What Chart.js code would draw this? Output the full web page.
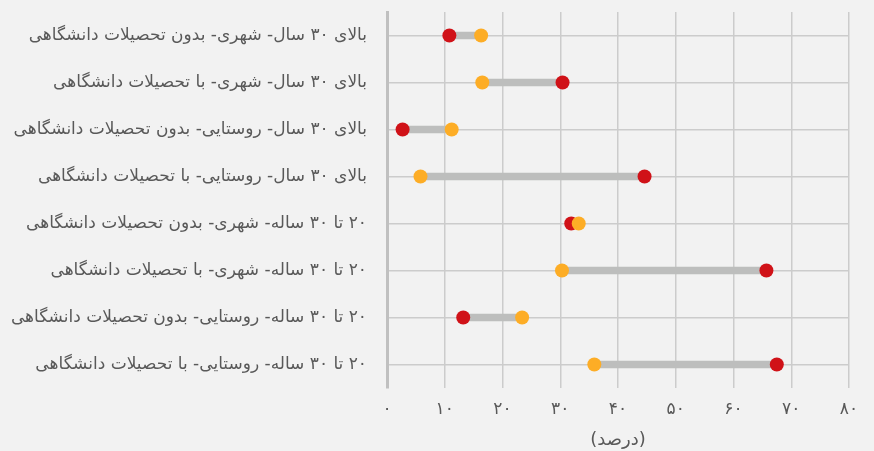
<!DOCTYPE html>
<html>
<head>
<meta charset="utf-8">
<script src="https://cdn.jsdelivr.net/npm/chart.js@4/dist/chart.umd.min.js"></script>
<style>
  html, body { margin: 0; padding: 0; background: #f2f2f2; }
  #wrap { width: 874px; height: 451px; }
</style>
</head>
<body>
<div id="wrap"><canvas id="c" dir="rtl" width="874" height="451"></canvas></div>
<script>
// Groups, top to bottom
const categories = [
  'بالای ۳۰ سال- شهری- بدون تحصیلات دانشگاهی',
  'بالای ۳۰ سال- شهری- با تحصیلات دانشگاهی',
  'بالای ۳۰ سال- روستایی- بدون تحصیلات دانشگاهی',
  'بالای ۳۰ سال- روستایی- با تحصیلات دانشگاهی',
  '۲۰ تا ۳۰ ساله- شهری- بدون تحصیلات دانشگاهی',
  '۲۰ تا ۳۰ ساله- شهری- با تحصیلات دانشگاهی',
  '۲۰ تا ۳۰ ساله- روستایی- بدون تحصیلات دانشگاهی',
  '۲۰ تا ۳۰ ساله- روستایی- با تحصیلات دانشگاهی'
];

// Percentages for the two compared groups (red and orange dots)
const redValues    = [10.8, 30.4, 2.7, 44.6, 31.9, 65.7, 13.2, 67.5];
const orangeValues = [16.3, 16.5, 11.2, 5.8, 33.2, 30.3, 23.4, 35.9];

// Persian numerals for the percentage axis
const tickLabels = ['۰', '۱۰', '۲۰', '۳۰', '۴۰', '۵۰', '۶۰', '۷۰', '۸۰'];
const axisTitle = '(درصد)';

const textColor = '#595959';
const fontFamily = "'DejaVu Sans', sans-serif";

const rangeData = categories.map((c, i) => [
  Math.min(redValues[i], orangeValues[i]),
  Math.max(redValues[i], orangeValues[i])
]);
const toPoints = vals => vals.map((v, i) => ({ x: v, y: categories[i] }));

new Chart(document.getElementById('c'), {
  type: 'bar',
  data: {
    labels: categories,
    datasets: [
      {
        type: 'bar',
        data: rangeData,
        backgroundColor: '#bdbebd',
        barThickness: 7,
        borderSkipped: false,
        order: 3
      },
      {
        type: 'line',
        data: toPoints(redValues),
        showLine: false,
        pointRadius: 7,
        pointHoverRadius: 7,
        pointBackgroundColor: '#d01218',
        pointBorderWidth: 0,
        order: 2
      },
      {
        type: 'line',
        data: toPoints(orangeValues),
        showLine: false,
        pointRadius: 7,
        pointHoverRadius: 7,
        pointBackgroundColor: '#fdad26',
        pointBorderWidth: 0,
        order: 1
      }
    ]
  },
  options: {
    indexAxis: 'y',
    responsive: false,
    animation: false,
    devicePixelRatio: 1,
    layout: { padding: { top: 12, right: 25, bottom: 0, left: 0 } },
    plugins: { legend: { display: false }, tooltip: { enabled: false } },
    scales: {
      x: {
        type: 'linear',
        min: 0,
        max: 80,
        ticks: {
          stepSize: 10,
          padding: 11,
          color: textColor,
          font: { family: fontFamily, size: 17 },
          callback: (v, i) => tickLabels[i]
        },
        grid: { color: '#cccccc', lineWidth: 1.5, drawTicks: false },
        border: { display: false },
        title: {
          display: true,
          text: axisTitle,
          color: textColor,
          font: { family: fontFamily, size: 18 },
          padding: { top: 4, bottom: 0 }
        },
        afterFit: s => { s.height = 63; }
      },
      y: {
        type: 'category',
        offset: true,
        ticks: {
          padding: 20,
          color: textColor,
          font: { family: fontFamily, size: 17 }
        },
        grid: { color: '#cccccc', lineWidth: 1.5, drawTicks: false, offset: false },
        border: { display: true, color: '#c0c0c0', width: 3 },
        afterFit: s => {
          s.width = 387;
          s.paddingTop = 0;
          s.paddingBottom = 0;
        }
      }
    }
  }
});
</script>
</body>
</html>
